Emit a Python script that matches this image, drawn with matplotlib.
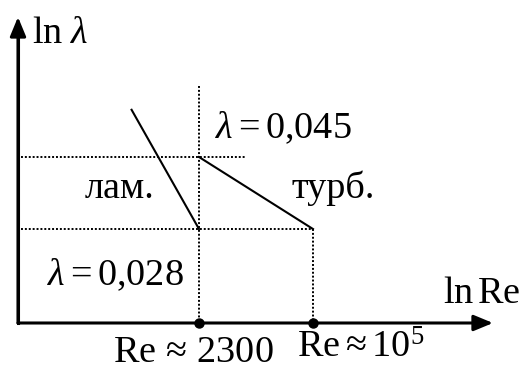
import numpy as np
import matplotlib
matplotlib.use("Agg")
import matplotlib.pyplot as plt

plt.rcParams["font.family"] = ["Liberation Serif", "DejaVu Serif"]
plt.rcParams["mathtext.fontset"] = "custom"
plt.rcParams["mathtext.rm"] = "Liberation Serif"
plt.rcParams["mathtext.it"] = "Liberation Serif:italic"

# Key values of the friction-factor sketch
re_marks = [2300, 1e5]          # critical Re and upper end of the turbulent range
lam_marks = [0.045, 0.028]      # friction factor at the transition
lam_start = (5.51, -2.79)       # (ln Re, ln lambda) where the laminar segment begins

ln_re = np.log(re_marks)
ln_lam = np.log(lam_marks)

# laminar segment: falls to lambda=0.028 at Re=2300
lam_x = [lam_start[0], ln_re[0]]
lam_y = [lam_start[1], ln_lam[1]]
# turbulent segment: from lambda=0.045 at Re=2300 to 0.028 at Re=1e5
turb_x = [ln_re[0], ln_re[1]]
turb_y = [ln_lam[0], ln_lam[1]]

W, H = 521, 370
fig = plt.figure(figsize=(W / 100, H / 100), dpi=100)
ax = fig.add_axes([0, 0, 1, 1])
ax.set_xlim(1.1557, 18.396)
ax.set_ylim(-4.5045, -2.0666)
ax.axis("off")

x0, y0 = 1.7513, -4.1948       # axis origin
x_tip, y_tip = 17.469, -2.1786  # arrow tips

arrow = dict(arrowstyle="-|>,head_length=0.58,head_width=0.24",
             lw=2.2, color="black", mutation_scale=20, shrinkA=0, shrinkB=0)
ax.plot([x0, x0], [y0, y_tip - 0.05], color="black", lw=2.2,
        solid_capstyle="projecting")
ax.annotate("", xy=(x_tip, y0), xytext=(x0, y0), arrowprops=arrow)
ax.annotate("", xy=(x0, y_tip), xytext=(x0, y0), arrowprops=arrow)

dot = dict(color="black", lw=1.4, linestyle=(0, (1, 1)))
ax.plot([1.851, 9.296], [ln_lam[0], ln_lam[0]], **dot)
ax.plot([1.851, ln_re[1]], [ln_lam[1], ln_lam[1]], **dot)
ax.plot([ln_re[0], ln_re[0]], [-2.633, y0], **dot)
ax.plot([ln_re[1], ln_re[1]], [ln_lam[1], y0], **dot)

ax.plot(lam_x, lam_y, color="black", lw=1.5)
ax.plot(turb_x, turb_y, color="black", lw=1.5)

ax.plot(ln_re, [y0, y0], "o", color="black", markersize=6.5, zorder=5)


def px(x, y):
    return x / W, 1 - y / H


fs = 27.5
labels = [
    (32, 43, r"$\ln\,\lambda$"),
    (215, 138, r"$\lambda = 0{,}045$"),
    (85, 198, "лам."),
    (292, 198, "турб."),
    (47, 285, r"$\lambda = 0{,}028$"),
    (443, 303, r"$\ln\mathrm{Re}$"),
    (113, 362, r"$\mathrm{Re}\,\approx\,2300$"),
    (297, 357, r"$\mathrm{Re}\approx 10^5$"),
]
for lx, ly, s in labels:
    ax.text(*px(lx, ly), s, transform=ax.transAxes, fontsize=fs,
            ha="left", va="baseline", color="black")

fig.savefig("out.png", dpi=100)
